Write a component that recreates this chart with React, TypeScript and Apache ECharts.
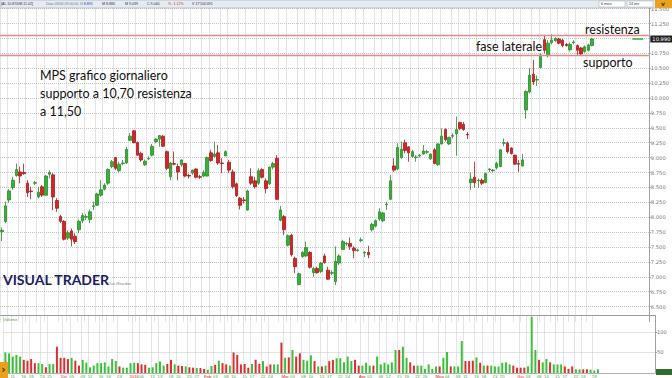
import React, { useEffect, useRef } from "react";
import * as echarts from "echarts";

// [open, close, low, high]
const candles: number[][] = [
  [7.76, 7.78, 7.6, 7.83], [7.93, 8.19, 7.9, 8.26], [8.29, 8.44, 8.24, 8.47], [8.5, 8.62, 8.46, 8.68],
  [8.7, 8.8, 8.68, 8.9], [8.76, 8.69, 8.57, 8.85], [8.75, 8.73, 8.71, 8.9], [8.57, 8.41, 8.34, 8.62],
  [8.44, 8.43, 8.3, 8.51], [8.57, 8.58, 8.54, 8.61], [8.34, 8.42, 8.32, 8.51], [8.51, 8.37, 8.34, 8.54],
  [8.37, 8.69, 8.36, 8.71], [8.72, 8.75, 8.65, 8.79], [8.71, 8.34, 8.12, 8.74], [8.28, 8.15, 8.09, 8.32],
  [8.01, 7.93, 7.9, 8.04], [7.93, 7.63, 7.61, 7.95], [7.65, 7.74, 7.62, 7.78], [7.77, 7.63, 7.51, 7.81],
  [7.68, 7.59, 7.55, 7.73], [7.79, 7.93, 7.73, 7.96], [7.94, 8.03, 7.9, 8.07], [8.0, 8.01, 7.95, 8.05],
  [7.96, 8.09, 7.9, 8.13], [8.18, 8.19, 8.12, 8.26], [8.2, 8.39, 8.19, 8.41], [8.37, 8.46, 8.34, 8.62],
  [8.47, 8.54, 8.45, 8.57], [8.57, 8.8, 8.54, 8.82], [8.85, 8.93, 8.82, 8.96], [9.0, 8.82, 8.79, 9.01],
  [8.78, 8.89, 8.75, 8.93], [8.9, 8.91, 8.87, 8.96], [8.91, 9.14, 8.9, 9.18], [9.29, 9.36, 9.28, 9.41],
  [9.45, 9.25, 9.24, 9.46], [9.25, 9.04, 9.03, 9.27], [9.07, 8.96, 8.93, 9.1], [8.88, 8.94, 8.86, 8.97],
  [8.98, 8.99, 8.96, 9.02], [9.04, 9.19, 9.02, 9.23], [9.27, 9.31, 9.24, 9.32], [9.31, 9.37, 9.18, 9.38],
  [9.36, 9.19, 9.18, 9.38], [9.1, 8.82, 8.79, 9.12], [8.68, 8.91, 8.62, 8.93], [8.9, 8.89, 8.87, 9.1],
  [8.85, 8.76, 8.62, 8.9], [8.88, 8.96, 8.85, 8.97], [8.9, 8.69, 8.67, 8.91], [8.7, 8.69, 8.65, 8.73],
  [8.74, 8.79, 8.71, 8.8], [8.81, 8.67, 8.65, 8.82], [8.68, 8.67, 8.64, 8.71], [8.69, 8.75, 8.67, 8.79],
  [8.69, 9.0, 8.68, 9.02], [9.08, 8.95, 8.93, 9.13], [9.02, 9.06, 9.0, 9.27], [9.08, 8.91, 8.88, 9.21],
  [8.91, 8.9, 8.74, 8.99], [9.03, 9.1, 9.02, 9.12], [8.92, 8.79, 8.74, 8.96], [8.76, 8.51, 8.48, 8.8],
  [8.56, 8.36, 8.34, 8.58], [8.32, 8.2, 8.13, 8.34], [8.29, 8.28, 8.23, 8.34], [8.12, 8.44, 8.11, 8.46],
  [8.68, 8.57, 8.54, 8.82], [8.61, 8.51, 8.48, 8.68], [8.57, 8.78, 8.54, 8.82], [8.8, 8.67, 8.65, 8.82],
  [8.61, 8.48, 8.4, 8.65], [8.56, 8.84, 8.54, 8.85], [8.84, 8.9, 8.8, 8.93], [8.99, 8.3, 8.29, 9.04],
  [7.95, 8.12, 7.93, 8.19], [8.01, 7.79, 7.7, 8.04], [7.53, 7.69, 7.51, 7.71], [7.7, 7.37, 7.34, 7.72],
  [7.31, 7.17, 7.06, 7.34], [6.87, 7.05, 6.86, 7.07], [7.34, 7.41, 7.32, 7.43], [7.35, 7.49, 7.33, 7.59],
  [7.41, 7.16, 7.14, 7.43], [7.07, 7.14, 7.0, 7.17], [7.14, 7.07, 7.05, 7.17], [7.09, 7.23, 7.06, 7.25],
  [7.35, 7.24, 7.22, 7.39], [7.11, 6.96, 6.95, 7.17], [7.06, 7.07, 7.03, 7.11], [6.92, 7.26, 6.86, 7.51],
  [7.23, 7.35, 7.2, 7.38], [7.46, 7.59, 7.45, 7.62], [7.55, 7.56, 7.52, 7.58], [7.56, 7.51, 7.45, 7.66],
  [7.48, 7.44, 7.31, 7.51], [7.44, 7.45, 7.42, 7.47], [7.61, 7.62, 7.58, 7.66], [7.4, 7.41, 7.33, 7.43],
  [7.41, 7.37, 7.31, 7.52], [7.79, 7.88, 7.76, 7.91], [7.85, 7.94, 7.83, 7.96], [7.97, 8.09, 7.94, 8.15],
  [7.94, 8.07, 7.92, 8.09], [8.21, 8.22, 8.12, 8.26], [8.3, 8.61, 8.29, 8.71], [8.86, 8.79, 8.76, 8.99],
  [8.81, 9.17, 8.79, 9.24], [9.0, 9.14, 8.98, 9.27], [9.25, 9.12, 9.07, 9.3], [9.18, 9.08, 8.93, 9.19],
  [9.02, 9.1, 9.0, 9.13], [9.0, 9.01, 8.93, 9.04], [9.03, 9.04, 9.0, 9.06], [9.06, 9.11, 9.05, 9.21],
  [9.09, 9.1, 9.06, 9.13], [8.98, 9.06, 8.96, 9.07], [9.13, 8.9, 8.89, 9.16], [8.88, 9.23, 8.86, 9.24],
  [9.23, 9.36, 9.22, 9.49], [9.47, 9.3, 9.27, 9.49], [9.23, 9.34, 9.21, 9.35], [9.36, 9.37, 9.32, 9.41],
  [9.4, 9.47, 9.03, 9.69], [9.59, 9.49, 9.46, 9.6], [9.56, 9.47, 9.45, 9.6], [9.39, 9.38, 9.31, 9.43],
  [8.58, 8.64, 8.46, 8.75], [8.67, 8.58, 8.5, 8.93], [8.61, 8.62, 8.49, 8.65], [8.62, 8.57, 8.54, 8.65],
  [8.58, 8.73, 8.57, 8.75], [8.8, 8.81, 8.76, 8.82], [8.78, 8.79, 8.75, 8.81], [8.83, 8.9, 8.8, 8.93],
  [8.85, 9.13, 8.84, 9.14], [9.24, 9.25, 9.19, 9.32], [9.24, 9.1, 9.07, 9.27], [9.16, 9.07, 9.05, 9.17],
  [9.04, 8.89, 8.88, 9.05], [8.9, 8.89, 8.76, 8.96], [8.86, 8.96, 8.85, 9.06], [9.8, 10.11, 9.65, 10.13],
  [10.1, 10.38, 10.08, 10.5], [10.4, 10.27, 10.22, 10.64], [10.3, 10.31, 10.2, 10.38], [10.51, 10.72, 10.5, 10.75],
  [10.98, 10.8, 10.75, 11.06], [10.71, 10.92, 10.68, 10.97], [10.93, 10.97, 10.9, 11.07], [10.96, 11.0, 10.94, 11.02],
  [10.99, 10.92, 10.9, 11.01], [10.97, 10.88, 10.85, 10.99], [10.9, 10.88, 10.86, 10.92], [10.81, 10.9, 10.78, 10.93],
  [10.93, 10.94, 10.9, 10.97], [10.88, 10.8, 10.72, 10.9], [10.84, 10.74, 10.72, 10.86], [10.78, 10.86, 10.76, 10.88],
  [10.8, 10.89, 10.78, 10.91], [10.88, 10.99, 10.87, 11.01],
];

// volumes (thousands)
const volumes: number[] = [
  50, 48, 40, 44, 40, 32, 30, 34, 24, 24,
  22, 14, 22, 22, 64, 37, 37, 34, 37, 30,
  18, 32, 25, 14, 18, 24, 24, 26, 16, 34,
  29, 16, 13, 13, 24, 25, 24, 21, 20, 13,
  14, 24, 28, 18, 22, 32, 21, 18, 17, 16,
  14, 13, 12, 12, 10, 8, 17, 20, 30, 24,
  21, 18, 50, 44, 21, 22, 13, 22, 32, 22,
  29, 16, 21, 21, 21, 74, 37, 38, 56, 40,
  48, 32, 30, 43, 29, 16, 16, 18, 29, 32,
  36, 36, 26, 40, 29, 32, 18, 18, 25, 18,
  18, 40, 21, 25, 21, 26, 56, 56, 64, 37,
  26, 18, 18, 18, 10, 21, 10, 16, 16, 37,
  51, 16, 16, 16, 78, 29, 29, 30, 38, 25,
  18, 18, 18, 16, 16, 25, 26, 21, 18, 13,
  13, 13, 16, 137, 56, 32, 26, 34, 26, 21,
  21, 21, 16, 10, 16, 9, 9, 9, 9, 8,
  6, 9,
];

const startDate = "2015-11-09";
const holidays = ["2015-12-08", "2015-12-24", "2015-12-25", "2015-12-31", "2016-01-01", "2016-03-25", "2016-03-28"];
const monthNames = ["2016", "Feb", "Mar", "Apr", "Mag", "Giu", "Lug", "Ago", "Set", "Ott", "Nov", "Dic"];
const emptySlots = 15;

const resistanceLevel = 11.06;
const supportLevel = 10.72;
const priceMin = 6.25;
const priceMax = 11.5;
const priceStep = 0.25;
const volMax = 140;
const volStep = 50;

const annotationLines = ["MPS grafico giornaliero", "supporto a 10,70 resistenza", "a 11,50"];

function buildDates(n: number): string[] {
  const out: string[] = [];
  const d = new Date(startDate + "T12:00:00Z");
  while (out.length < n) {
    const dow = d.getUTCDay();
    const iso = d.toISOString().slice(0, 10);
    if (dow !== 0 && dow !== 6 && !holidays.includes(iso)) out.push(iso);
    d.setUTCDate(d.getUTCDate() + 1);
  }
  return out;
}

export default function App() {
  const ref = useRef<HTMLDivElement>(null);
  useEffect(() => {
    if (!ref.current) return;
    const chart = echarts.init(ref.current, null, { renderer: "svg" });
    const nData = candles.length;
    const dates = buildDates(nData);
    const categories = [...dates, ...Array.from({ length: emptySlots }, (_, k) => "e" + k)];
    const monthStart = dates.map((d, i) => i > 0 && d.slice(5, 7) !== dates[i - 1].slice(5, 7));
    const pos: number[] = [];
    let c = 0;
    dates.forEach((_, i) => {
      if (i === 0 || monthStart[i]) c = 0;
      else c++;
      pos.push(c);
    });
    const showLabel = (i: number) => {
      if (i >= nData) return false;
      if (monthStart[i]) return true;
      const m = pos[i] % 5;
      if (m !== 0 && m !== 2) return false;
      if ((i + 1 < nData && monthStart[i + 1]) || (i + 2 < nData && monthStart[i + 2])) return false;
      return true;
    };
    const lastPrice = candles[nData - 1][1];
    const nPriceTicks = Math.round((priceMax - priceMin) / priceStep) + 1;
    const priceSplitColors = Array.from({ length: nPriceTicks }, (_, k) => (k === 0 ? "rgba(0,0,0,0)" : "#c4c4c4"));
    const up = "#36b336";
    const down = "#d42626";

    const gridText = { fontSize: 5.2, color: "#777", fontFamily: "DejaVu Sans" };
    const txt = (x: number, y: number, text: string, style: any = {}) => ({
      type: "text",
      x,
      y,
      z: 100,
      style: { text, fontFamily: "Lato", fontSize: 12.5, fill: "#111", ...style },
    });
    const hdr = (x: number, text: string, fill = "#333") =>
      txt(x, 2, text, { fontSize: 3.6, fontFamily: "Liberation Sans", fill });

    const option: any = {
      animation: false,
      backgroundColor: "#ffffff",
      grid: [
        { left: 0, right: 17, top: 8.6, height: 312.9 },
        { left: 0, right: 17, top: 315.5, height: 58.5 },
      ],
      xAxis: [
        {
          type: "category",
          gridIndex: 0,
          data: categories,
          boundaryGap: true,
          axisLine: { show: false },
          axisTick: { show: false },
          axisLabel: { show: false },
          splitLine: { show: true, interval: (i: number) => showLabel(i), lineStyle: { color: "#c8c8c8", type: "dotted", width: 1 } },
        },
        {
          type: "category",
          gridIndex: 1,
          data: categories,
          boundaryGap: true,
          axisLine: { show: true, lineStyle: { color: "#b0b0b0" } },
          axisTick: { show: false },
          axisLabel: {
            show: true,
            interval: (i: number) => showLabel(i),
            margin: 1,
            fontSize: 4.3,
            color: "#44aa44",
            fontFamily: "Liberation Sans",
            formatter: (v: string, i: number) => {
              if (i >= nData) return "";
              if (monthStart[i]) return "{m|" + monthNames[Number(v.slice(5, 7)) - 1] + "}";
              return v.slice(8, 10);
            },
            rich: { m: { color: "#d42626", fontSize: 4.3, fontFamily: "Liberation Sans" } },
          },
          splitLine: { show: true, interval: (i: number) => showLabel(i), lineStyle: { color: "#c8c8c8", type: "dotted", width: 1 } },
        },
      ],
      yAxis: [
        {
          type: "value",
          gridIndex: 0,
          position: "right",
          min: priceMin,
          max: priceMax,
          interval: priceStep,
          axisLine: { show: true, lineStyle: { color: "#a0a0a0" } },
          axisTick: { show: true, length: 2, lineStyle: { color: "#a0a0a0" } },
          axisLabel: {
            ...gridText,
            margin: 2,
            showMinLabel: false,
            // the level covered by the last-price box is not printed
            formatter: (v: number) => (Math.abs(v - lastPrice) < priceStep / 2 ? "" : v.toFixed(3)),
          },
          splitLine: { show: true, lineStyle: { color: priceSplitColors, type: "dotted", width: 1 } },
        },
        {
          type: "value",
          gridIndex: 1,
          position: "right",
          min: 0,
          max: volMax,
          interval: volStep,
          axisLine: { show: true, lineStyle: { color: "#a0a0a0" } },
          axisTick: { show: true, length: 2, lineStyle: { color: "#a0a0a0" } },
          axisLabel: { ...gridText, margin: 2, showMinLabel: false, showMaxLabel: false },
          splitLine: { show: true, lineStyle: { color: ["rgba(0,0,0,0)", "#c8c8c8", "#c8c8c8", "rgba(0,0,0,0)"], type: "dotted" } },
        },
      ],
      series: [
        {
          type: "candlestick",
          xAxisIndex: 0,
          yAxisIndex: 0,
          data: candles,
          barWidth: 3,
          itemStyle: { color: up, color0: down, borderColor: "#2a8a2a", borderColor0: "#a31a1a", borderWidth: 0.8 },
          markLine: {
            silent: true,
            symbol: ["none", "none"],
            label: { show: false },
            data: [
              { yAxis: resistanceLevel, lineStyle: { color: "#e08a8a", width: 1.3, type: "solid" } },
              { yAxis: supportLevel, lineStyle: { color: "#e08a8a", width: 1.3, type: "solid" } },
              [
                {
                  coord: [categories[nData + 10], lastPrice],
                  lineStyle: { color: "#3cb043", width: 1.6, type: "solid" },
                  label: {
                    show: true,
                    position: "end",
                    distance: 7,
                    formatter: lastPrice.toFixed(3),
                    backgroundColor: "#222",
                    color: "#fff",
                    fontSize: 5.2,
                    fontFamily: "DejaVu Sans",
                    padding: [1, 2],
                  },
                },
                { coord: [categories[nData + 13], lastPrice] },
              ],
            ],
          },
        },
        {
          type: "bar",
          xAxisIndex: 1,
          yAxisIndex: 1,
          barWidth: 2,
          data: volumes.map((v, i) => ({ value: v, itemStyle: { color: candles[i][1] >= candles[i][0] ? "#3cc03c" : "#d83030" } })),
        },
      ],
      graphic: [
        { type: "rect", z: 99, shape: { x: 0, y: 0, width: 672, height: 8 }, style: { fill: "#e6ebf2", stroke: "#9aa7b8", lineWidth: 0.6 } },
        { type: "rect", z: 100, shape: { x: 599, y: 1, width: 26, height: 6 }, style: { fill: "#fff", stroke: "#9aa7b8", lineWidth: 0.5 } },
        { type: "rect", z: 100, shape: { x: 627, y: 1, width: 26, height: 6 }, style: { fill: "#fff", stroke: "#9aa7b8", lineWidth: 0.5 } },
        { type: "rect", z: 100, shape: { x: 655, y: 0, width: 17, height: 8 }, style: { fill: "#e8a21c" } },
        hdr(1, "[AL 10.870/M.11.02]"),
        hdr(46, "Data 03/06 09:00:00", "#777"),
        hdr(80, "O 8.895", "#2a3fb0"),
        hdr(102, "M 8.880"),
        hdr(125, "M 9.039"),
        hdr(147, "C 9.040"),
        hdr(168, "% -1.12%", "#d42626"),
        hdr(192, "V 17'100'491"),
        txt(601, 2.2, "6 mesi", { fontSize: 3.6, fontFamily: "Liberation Sans", fill: "#333" }),
        txt(629, 2.2, "24 ore", { fontSize: 3.6, fontFamily: "Liberation Sans", fill: "#333" }),
        txt(661, 0.5, "v", { fontSize: 6, fontFamily: "DejaVu Sans", fill: "#4a3000", fontWeight: "bold" }),
        { type: "line", z: 100, shape: { x1: 0, y1: 315.5, x2: 655, y2: 315.5 }, style: { stroke: "#9a9a9a", lineWidth: 1 } },
        txt(3, 317, "Volume", { fontSize: 4.3, fontFamily: "Liberation Sans", fill: "#3cb043" }),
        { type: "rect", z: 100, shape: { x: 0, y: 362, width: 8, height: 16 }, style: { fill: "#e8a21c" } },
        txt(1.5, 364.5, "›", { fontSize: 10, fontFamily: "DejaVu Sans", fill: "#3a2a00", fontWeight: "bold" }),
        { type: "rect", z: 100, shape: { x: 656, y: 369, width: 16, height: 6 }, style: { fill: "#2f6d2f" } },
        txt(3, 272, "VISUAL TRADER", { fontSize: 14, fontFamily: "Lato", fontWeight: "bold", fill: "#1c2060" }),
        txt(108, 281, "Dati Ritardati", { fontSize: 4, fontFamily: "Liberation Sans", fill: "#888" }),
        txt(40, 68.5, annotationLines[0]),
        txt(40, 86.5, annotationLines[1]),
        txt(40, 104.5, annotationLines[2]),
        txt(585, 22.5, "resistenza"),
        txt(476, 39.5, "fase laterale"),
        txt(583, 55.5, "supporto"),
      ],
    };
    chart.setOption(option);
    return () => chart.dispose();
  }, []);
  return <div ref={ref} style={{ width: 672, height: 378, position: "absolute", left: 0, top: 0 }} />;
}
